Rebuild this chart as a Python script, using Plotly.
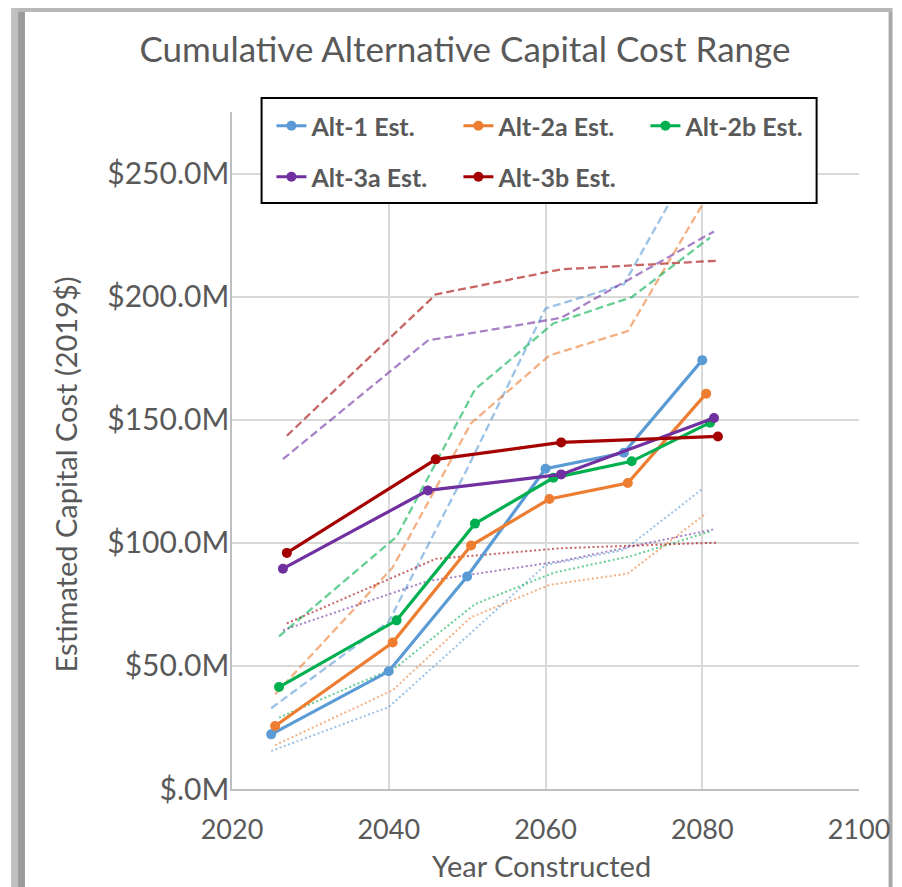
import plotly.graph_objects as go

# ---------------- data ----------------
series_names = ["Alt-1 Est.", "Alt-2a Est.", "Alt-2b Est.", "Alt-3a Est.", "Alt-3b Est."]
series_colors = ["#5B9BD5", "#ED7D31", "#00B050", "#7030A0", "#A50000"]

years_alt1 = [2025, 2040, 2050, 2060, 2070, 2080]
years_alt2a = [2025.5, 2040.5, 2050.5, 2060.5, 2070.5, 2080.5]
years_alt2b = [2026, 2041, 2051, 2061, 2071, 2081]
years_alt3a = [2026.5, 2045, 2062, 2081.5]
years_alt3b = [2027, 2046, 2062, 2082]

# estimates ($M, 2019$)
alt1_est = [22.2, 47.8, 86.3, 130.1, 136.6, 174.2]
alt2a_est = [25.6, 59.5, 98.9, 117.8, 124.3, 160.6]
alt2b_est = [41.4, 68.5, 107.8, 126.4, 133.1, 148.8]
alt3a_est = [89.5, 121.3, 127.8, 150.7]
alt3b_est = [95.9, 133.9, 140.8, 143.2]

# high range (dashed)
alt1_high = [32.8, 68.0, 130.0, 195.2, 205.0, 262.0]
alt2a_high = [38.5, 90.0, 148.6, 176.1, 186.0, 240.0]
alt2b_high = [62.0, 102.5, 162.3, 189.1, 199.8, 224.0]
alt3a_high = [134.0, 182.2, 191.4, 226.5]
alt3b_high = [143.5, 200.9, 211.1, 214.6]

# low range (dotted)
alt1_low = [15.4, 33.3, 62.0, 91.0, 97.1, 121.8]
alt2a_low = [17.8, 40.1, 69.8, 82.9, 87.5, 112.0]
alt2b_low = [29.0, 49.6, 75.1, 87.8, 94.7, 104.6]
alt3a_low = [64.5, 84.5, 92.6, 105.5]
alt3b_low = [67.3, 93.5, 97.8, 100.1]

y_tick_vals = [0, 50, 100, 150, 200, 250]
y_tick_text = ["$.0M", "$50.0M", "$100.0M", "$150.0M", "$200.0M", "$250.0M"]
x_tick_vals = [2020, 2040, 2060, 2080, 2100]

chart_title = "Cumulative Alternative Capital Cost Range"
x_title = "Year Constructed"
y_title = "Estimated Capital Cost (2019$)"

years = [years_alt1, years_alt2a, years_alt2b, years_alt3a, years_alt3b]
ests = [alt1_est, alt2a_est, alt2b_est, alt3a_est, alt3b_est]
highs = [alt1_high, alt2a_high, alt2b_high, alt3a_high, alt3b_high]
lows = [alt1_low, alt2a_low, alt2b_low, alt3a_low, alt3b_low]

FONT = "Lato"
GREY = "#595959"

# page body has an 8px margin: work in screen pixels and convert
OFF = 8
W, H = 902 - OFF, 887 - OFF
ML, MR, MT, MB = 232 - OFF, 34, 112 - OFF, 98
PW, PH = W - ML - MR, H - MT - MB


def px_x(sx):
    return (sx - OFF - ML) / PW


def px_y(sy):
    return (H - MB - (sy - OFF)) / PH


fig = go.Figure()

for yr, hi, col in zip(years, highs, series_colors):
    fig.add_trace(go.Scatter(x=yr, y=hi, mode="lines", showlegend=False, opacity=0.6,
                             line=dict(color=col, width=2.3, dash="8px,4px"), hoverinfo="skip"))
for yr, lo, col in zip(years, lows, series_colors):
    fig.add_trace(go.Scatter(x=yr, y=lo, mode="lines", showlegend=False, opacity=0.6,
                             line=dict(color=col, width=2, dash="2px,2.5px"), hoverinfo="skip"))
for i, (yr, est, col, name) in enumerate(zip(years, ests, series_colors, series_names)):
    fig.add_trace(go.Scatter(x=yr, y=est, mode="lines+markers", name=name,
                             legend="legend" if i < 3 else "legend2",
                             line=dict(color=col, width=3.2),
                             marker=dict(color=col, size=10)))

shapes = []
shadow = [
    (8, 8, 902, 12, "#b8b8b8"),
    (8, 8, 15, 887, "#c0c0c0"), (15, 12, 22, 887, "#9a9a9a"),
    (898, 12, 902, 887, "#a8a8a8"),
]
for x0, y0, x1, y1, c in shadow:
    shapes.append(dict(type="rect", xref="paper", yref="paper", layer="below",
                       x0=px_x(x0), x1=px_x(x1), y0=px_y(y1), y1=px_y(y0),
                       line=dict(width=0), fillcolor=c))
# legend box
shapes.append(dict(type="rect", xref="paper", yref="paper", layer="above",
                   x0=px_x(262), x1=px_x(825), y0=px_y(203), y1=px_y(98),
                   line=dict(width=2, color="black"), fillcolor="white"))

legend_common = dict(orientation="h", xanchor="left", yanchor="middle",
                     bgcolor="rgba(0,0,0,0)", borderwidth=0,
                     entrywidth=142, entrywidthmode="pixels",
                     font=dict(family=FONT, size=25, color=GREY, weight="bold"))

fig.update_layout(
    width=W, height=H,
    margin=dict(l=ML, r=MR, t=MT, b=MB),
    paper_bgcolor="white", plot_bgcolor="white",
    font=dict(family=FONT, color=GREY),
    title=dict(text=chart_title, x=(465 - OFF) / W, xanchor="center",
               y=1 - (50 - OFF) / H, yanchor="middle",
               font=dict(family=FONT, size=35, color=GREY)),
    xaxis=dict(range=[2020, 2100], tickvals=x_tick_vals, showgrid=True, gridcolor="#D9D9D9",
               gridwidth=1.5, zeroline=False, showline=True, linecolor="#BFBFBF", linewidth=1.5,
               ticks="outside", ticklen=16, tickcolor="rgba(0,0,0,0)",
               tickfont=dict(family=FONT, size=27, color=GREY)),
    yaxis=dict(range=[0, 275], tickvals=y_tick_vals, ticktext=y_tick_text, showgrid=True,
               gridcolor="#D9D9D9", gridwidth=1.5, zeroline=False, showline=True,
               linecolor="#BFBFBF", linewidth=1.5, ticks="", ticklabelstandoff=-5,
               tickfont=dict(family=FONT, size=30, color=GREY)),
    legend=dict(x=px_x(272), y=px_y(126), **legend_common),
    legend2=dict(x=px_x(272), y=px_y(177), **legend_common),
    shapes=shapes,
    annotations=[
        dict(text=x_title, xref="paper", yref="paper", x=px_x(546), y=px_y(865),
             xanchor="center", yanchor="middle", showarrow=False,
             font=dict(family=FONT, size=29, color=GREY)),
        dict(text=y_title, xref="paper", yref="paper", x=px_x(63), y=px_y(474),
             xanchor="center", yanchor="middle", showarrow=False, textangle=-90,
             font=dict(family=FONT, size=29, color=GREY)),
    ],
    showlegend=True,
)

fig.write_html("out.html")
